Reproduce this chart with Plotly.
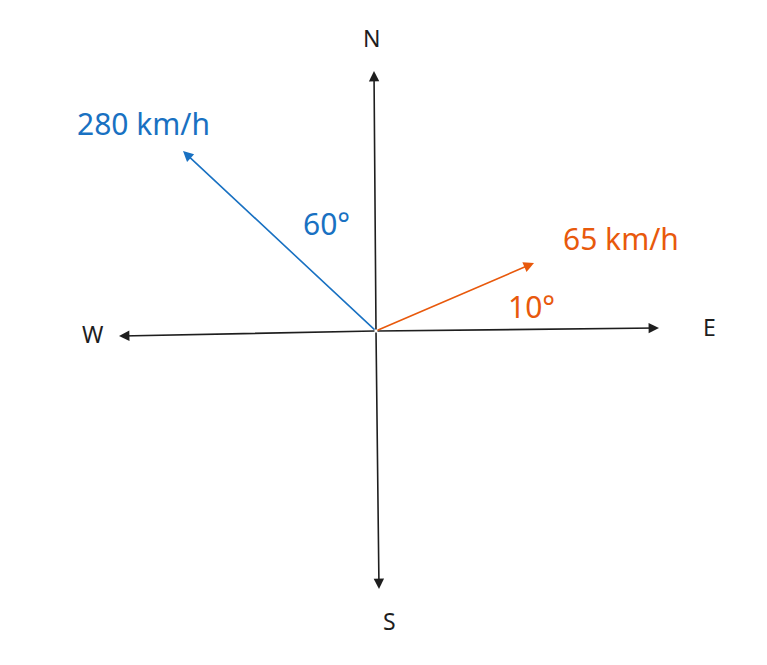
import plotly.graph_objects as go

# Compass axes: name, end point (dx, dy) from origin, label position
axis_names = ["N", "S", "W", "E"]
axis_ends = [(-2, 260), (3, -258), (-257, -5), (283, 3)]
axis_label_pos = [(-5, 293), (13, -290), (-283, -3), (333, 4)]

# Velocity vectors
vec_labels = ["280 km/h", "65 km/h"]
vec_ends = [(-193, 180), (158, 68)]
vec_colors = ["#1971c2", "#e8590c"]
vec_label_pos = [(-233, 208), (245, 93)]
angle_texts = ["60°", "10°"]
angle_pos = [(-50, 108), (155, 25)]

fig = go.Figure()
fig.add_trace(go.Scatter(x=[0], y=[0], mode="markers", marker=dict(opacity=0), hoverinfo="skip"))

font = "Comic Sans MS, Noto Sans, sans-serif"
for name, (ex, ey), (lx, ly) in zip(axis_names, axis_ends, axis_label_pos):
    fig.add_annotation(x=ex, y=ey, ax=0, ay=0, xref="x", yref="y", axref="x", ayref="y",
                       showarrow=True, arrowhead=2, arrowsize=1.3, arrowwidth=1.6,
                       arrowcolor="#1e1e1e", text="")
    fig.add_annotation(x=lx, y=ly, text=name, showarrow=False,
                       font=dict(size=23, color="#1e1e1e", family=font))

for lab, (ex, ey), col, (lx, ly), at, (axp, ayp) in zip(vec_labels, vec_ends, vec_colors,
                                                       vec_label_pos, angle_texts, angle_pos):
    fig.add_annotation(x=ex, y=ey, ax=0, ay=0, xref="x", yref="y", axref="x", ayref="y",
                       showarrow=True, arrowhead=2, arrowsize=1.3, arrowwidth=1.6,
                       arrowcolor=col, text="")
    fig.add_annotation(x=lx, y=ly, text=lab, showarrow=False,
                       font=dict(size=30, color=col, family=font))
    fig.add_annotation(x=axp, y=ayp, text=at, showarrow=False,
                       font=dict(size=30, color=col, family=font))

fig.update_layout(width=767, height=665, margin=dict(l=0, r=0, t=0, b=0),
                  plot_bgcolor="white", paper_bgcolor="white", showlegend=False,
                  xaxis=dict(range=[-368, 399], visible=False, fixedrange=True),
                  yaxis=dict(range=[-342, 323], visible=False, fixedrange=True))
fig.write_html("out.html")
